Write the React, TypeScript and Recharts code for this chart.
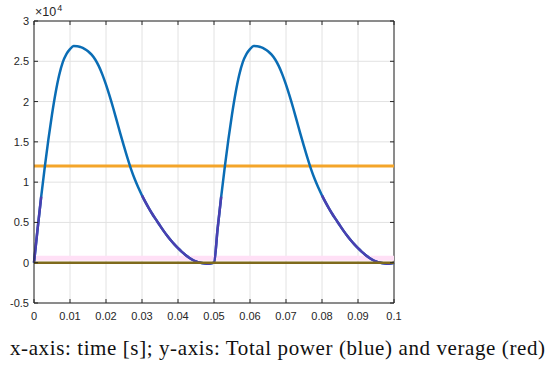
import { LineChart, Line, XAxis, YAxis, CartesianGrid, ReferenceLine } from 'recharts';

// time [s], sampled every 1 ms
const TIME = [
  0, 0.001, 0.002, 0.003, 0.004, 0.005, 0.006, 0.007, 0.008, 0.009,
  0.01, 0.011, 0.012, 0.013, 0.014, 0.015, 0.016, 0.017, 0.018, 0.019,
  0.02, 0.021, 0.022, 0.023, 0.024, 0.025, 0.026, 0.027, 0.028, 0.029,
  0.03, 0.031, 0.032, 0.033, 0.034, 0.035, 0.036, 0.037, 0.038, 0.039,
  0.04, 0.041, 0.042, 0.043, 0.044, 0.045, 0.046, 0.047, 0.048, 0.049,
  0.05, 0.051, 0.052, 0.053, 0.054, 0.055, 0.056, 0.057, 0.058, 0.059,
  0.06, 0.061, 0.062, 0.063, 0.064, 0.065, 0.066, 0.067, 0.068, 0.069,
  0.07, 0.071, 0.072, 0.073, 0.074, 0.075, 0.076, 0.077, 0.078, 0.079,
  0.08, 0.081, 0.082, 0.083, 0.084, 0.085, 0.086, 0.087, 0.088, 0.089,
  0.09, 0.091, 0.092, 0.093, 0.094, 0.095, 0.096, 0.097, 0.098, 0.099,
  0.1,
];

// total power (blue)
const POWER = [
  0, 4200, 8200, 11900, 15300, 18400, 21100, 23300, 24900, 25900,
  26500, 26900, 26880, 26750, 26550, 26250, 25820, 25220, 24400, 23350,
  22100, 20700, 19200, 17600, 16000, 14450, 12950, 11550, 10350, 9300,
  8350, 7480, 6680, 5950, 5280, 4600, 3950, 3340, 2780, 2270,
  1800, 1380, 1000, 660, 370, 150, 20, -80, -120, -100,
  0, 4200, 8200, 11900, 15300, 18400, 21100, 23300, 24900, 25900,
  26500, 26900, 26880, 26750, 26550, 26250, 25820, 25220, 24400, 23350,
  22100, 20700, 19200, 17600, 16000, 14450, 12950, 11550, 10350, 9300,
  8350, 7480, 6680, 5950, 5280, 4600, 3950, 3340, 2780, 2270,
  1800, 1380, 1000, 660, 370, 150, 20, -80, -120, -100,
  0,
];

// low part of the trace, drawn in purple on top
const LOW = [
  0, 4200, 8200, null, null, null, null, null, null, null,
  null, null, null, null, null, null, null, null, null, null,
  null, null, null, null, null, null, null, null, null, null,
  8350, 7480, 6680, 5950, 5280, 4600, 3950, 3340, 2780, 2270,
  1800, 1380, 1000, 660, 370, 150, 20, -80, -120, -100,
  0, 4200, 8200, null, null, null, null, null, null, null,
  null, null, null, null, null, null, null, null, null, null,
  null, null, null, null, null, null, null, null, null, null,
  8350, 7480, 6680, 5950, 5280, 4600, 3950, 3340, 2780, 2270,
  1800, 1380, 1000, 660, 370, 150, 20, -80, -120, -100,
  0,
];

const AVERAGE = 12000;
const ZERO_LEVEL = 0;
const PINK_LEVEL = 550;

const X_TICKS = [0, 0.01, 0.02, 0.03, 0.04, 0.05, 0.06, 0.07, 0.08, 0.09, 0.1];
const Y_TICKS = [-5000, 0, 5000, 10000, 15000, 20000, 25000, 30000];

const data = TIME.map((t, i) => ({ t, power: POWER[i], low: LOW[i] }));

const PLOT = { left: 34, right: 394, top: 21, bottom: 303 };
const AXIS = '#262626';
const TICK_FONT = { fontFamily: 'Liberation Sans, Arial, sans-serif', fontSize: 11, fill: AXIS };

function XTick(props: any) {
  const { x, payload } = props;
  return (
    <g>
      <line x1={x} x2={x} y1={PLOT.bottom} y2={PLOT.bottom - 4} stroke={AXIS} />
      <line x1={x} x2={x} y1={PLOT.top} y2={PLOT.top + 4} stroke={AXIS} />
      <text x={x} y={PLOT.bottom + 17} textAnchor="middle" {...TICK_FONT}>
        {String(payload.value)}
      </text>
    </g>
  );
}

function YTick(props: any) {
  const { y, payload } = props;
  return (
    <g>
      <line x1={PLOT.left} x2={PLOT.left + 4} y1={y} y2={y} stroke={AXIS} />
      <line x1={PLOT.right} x2={PLOT.right - 4} y1={y} y2={y} stroke={AXIS} />
      <text x={PLOT.left - 5} y={y + 4} textAnchor="end" {...TICK_FONT}>
        {String(payload.value / 10000)}
      </text>
    </g>
  );
}

export default function App() {
  return (
    <div style={{ position: 'absolute', left: 0, top: 0, width: 550, height: 374, background: '#fff' }}>
      <LineChart width={550} height={325} data={data} margin={{ top: 21, right: 156, bottom: 2, left: 0 }}>
        <CartesianGrid stroke="#e2e2e2" strokeWidth={1} />
        <XAxis
          dataKey="t"
          type="number"
          domain={[0, 0.1]}
          ticks={X_TICKS}
          height={20}
          tick={<XTick />}
          tickLine={false}
          axisLine={{ stroke: AXIS }}
          interval={0}
        />
        <YAxis
          type="number"
          domain={[-5000, 30000]}
          ticks={Y_TICKS}
          width={34}
          tick={<YTick />}
          tickLine={false}
          axisLine={{ stroke: AXIS }}
          interval={0}
        />
        <ReferenceLine y={30000} stroke={AXIS} />
        <ReferenceLine x={0.1} stroke={AXIS} />
        <ReferenceLine y={PINK_LEVEL} stroke="#ffe0f6" strokeWidth={5} />
        <ReferenceLine y={AVERAGE} stroke="#f4a52a" strokeWidth={3} />
        <Line dataKey="power" type="monotone" stroke="#0a6db5" strokeWidth={2.5} dot={false} isAnimationActive={false} />
        <Line dataKey="low" type="monotone" stroke="#4a3fb0" strokeWidth={2.5} dot={false} connectNulls={false} isAnimationActive={false} />
        <ReferenceLine y={ZERO_LEVEL} stroke="#7f6a1c" strokeWidth={2.5} />
      </LineChart>
      <div style={{ position: 'absolute', left: 35, top: 5, fontFamily: 'Liberation Sans, Arial, sans-serif', fontSize: 12.5, color: AXIS, lineHeight: '14px' }}>
        ×10<sup style={{ fontSize: 9, verticalAlign: 'top', position: 'relative', top: -4, marginLeft: 1 }}>4</sup>
      </div>
      <div style={{ position: 'absolute', left: 10, top: 336, fontFamily: 'Liberation Serif, serif', fontSize: 21, letterSpacing: 0.6, lineHeight: '24px', color: '#111', whiteSpace: 'nowrap' }}>
        x-axis: time [s]; y-axis: Total power (blue) and verage (red)
      </div>
    </div>
  );
}
